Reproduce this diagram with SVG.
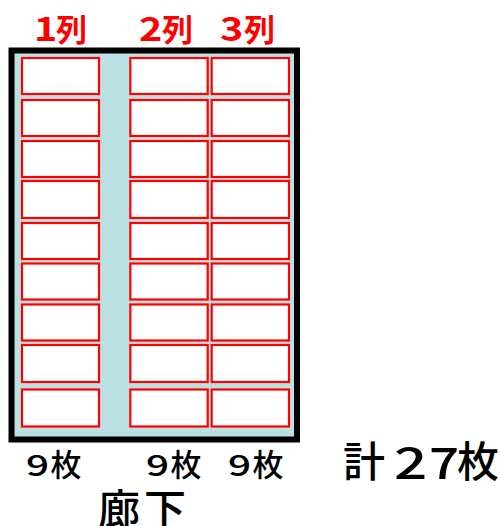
<svg xmlns="http://www.w3.org/2000/svg" width="500" height="526" viewBox="0 0 500 526">
<style>
.hdr{font-family:"Noto Sans CJK JP","Noto Sans",sans-serif;font-weight:bold;fill:#ff0000;font-size:31px}
.hd{font-family:"Noto Sans CJK JP","Noto Sans",sans-serif;font-weight:bold;fill:#ff0000;font-size:33px}
.lbl{font-family:"Noto Sans CJK JP","Noto Sans",sans-serif;fill:#000;font-weight:500}
.seat{fill:#fff;stroke:#ff0000;stroke-width:2.2}
</style>
<rect width="500" height="526" fill="#fff"/>
<g id="room">
<rect x="11.5" y="50.5" width="285.5" height="389" fill="#bae0e3" stroke="#000" stroke-width="6"/>
</g>
<g id="headers">
<text class="hd" transform="translate(34,41) scale(1.2,1)">1</text><text class="hdr" x="56" y="41">列</text>
<text class="hd" transform="translate(139,41) scale(1.2,1)">2</text><text class="hdr" x="162" y="41">列</text>
<text class="hd" transform="translate(220,41) scale(1.2,1)">3</text><text class="hdr" x="244" y="41">列</text>
</g>
<g id="col1">
<rect class="seat" x="22" y="58" width="77" height="36"/>
<rect class="seat" x="22" y="100" width="77" height="36"/>
<rect class="seat" x="22" y="141" width="77" height="36"/>
<rect class="seat" x="22" y="181" width="77" height="37"/>
<rect class="seat" x="22" y="223" width="77" height="36"/>
<rect class="seat" x="22" y="263.5" width="77" height="36"/>
<rect class="seat" x="22" y="304.5" width="77" height="36"/>
<rect class="seat" x="22" y="345" width="77" height="37"/>
<rect class="seat" x="22" y="389.5" width="77" height="37"/>
</g>
<g id="col2">
<rect class="seat" x="130.3" y="58" width="77.4" height="36"/>
<rect class="seat" x="130.3" y="100" width="77.4" height="36"/>
<rect class="seat" x="130.3" y="141" width="77.4" height="36"/>
<rect class="seat" x="130.3" y="181" width="77.4" height="37"/>
<rect class="seat" x="130.3" y="223" width="77.4" height="36"/>
<rect class="seat" x="130.3" y="263.5" width="77.4" height="36"/>
<rect class="seat" x="130.3" y="304.5" width="77.4" height="36"/>
<rect class="seat" x="130.3" y="345" width="77.4" height="37"/>
<rect class="seat" x="130.3" y="389.5" width="77.4" height="37"/>
</g>
<g id="col3">
<rect class="seat" x="211.7" y="58" width="77.3" height="36"/>
<rect class="seat" x="211.7" y="100" width="77.3" height="36"/>
<rect class="seat" x="211.7" y="141" width="77.3" height="36"/>
<rect class="seat" x="211.7" y="181" width="77.3" height="37"/>
<rect class="seat" x="211.7" y="223" width="77.3" height="36"/>
<rect class="seat" x="211.7" y="263.5" width="77.3" height="36"/>
<rect class="seat" x="211.7" y="304.5" width="77.3" height="36"/>
<rect class="seat" x="211.7" y="345" width="77.3" height="37"/>
<rect class="seat" x="211.7" y="389.5" width="77.3" height="37"/>
</g>
<g id="counts">
<text class="lbl" font-size="29" transform="translate(26,476) scale(1.4,1)">9</text><text class="lbl" font-size="31" x="50.5" y="476">枚</text>
<text class="lbl" font-size="29" transform="translate(146,476) scale(1.4,1)">9</text><text class="lbl" font-size="31" x="170.5" y="476">枚</text>
<text class="lbl" font-size="29" transform="translate(228,476) scale(1.4,1)">9</text><text class="lbl" font-size="31" x="252.5" y="476">枚</text>
<text class="lbl" font-size="42" x="343" y="477">計</text>
<text class="lbl" font-size="44" transform="translate(394,479) scale(1.33,1)">2</text>
<text class="lbl" font-size="44" transform="translate(429,479) scale(1.2,1)">7</text>
<text class="lbl" font-size="42" x="457" y="477">枚</text>
</g>
<g id="corridor">
<text class="lbl" font-size="42" y="525"><tspan x="98">廊</tspan><tspan x="144">下</tspan></text>
</g>
</svg>
